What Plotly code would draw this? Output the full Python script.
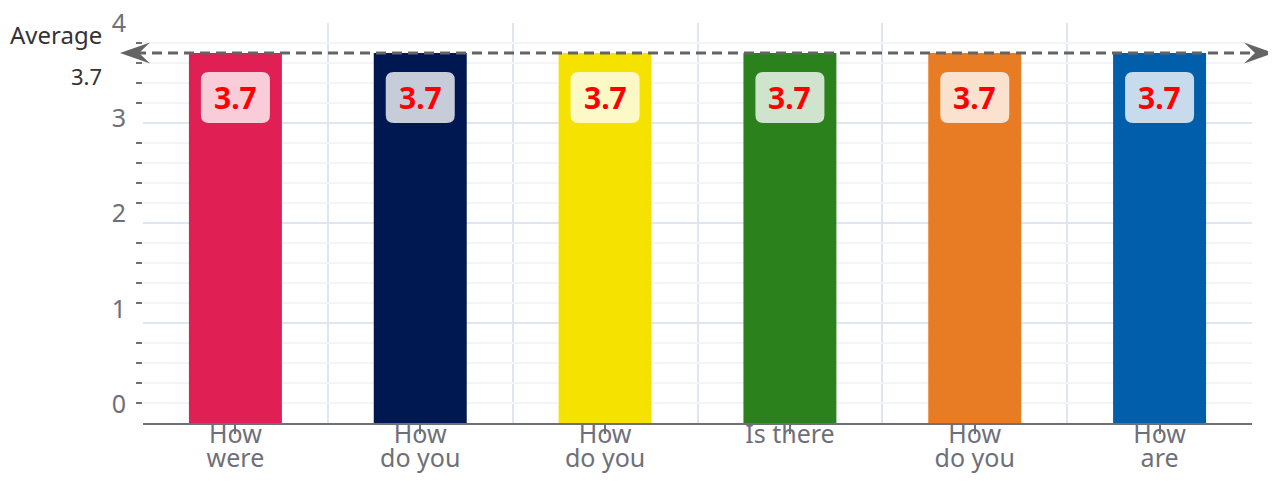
import plotly.graph_objects as go

# ---- data ----
label_line1 = ["How", "How", "How", "Is there", "How", "How"]
label_line2 = ["were", "do you", "do you", "", "do you", "are"]
values = [3.7, 3.7, 3.7, 3.7, 3.7, 3.7]
bar_colors = ["#e01f54", "#001852", "#f5e200", "#2b821d", "#e87c25", "#005eaa"]
average_value = 3.7
average_label = "Average"
y_tick_values = [0, 1, 2, 3, 4]
y_tick_labels = ["0", "1", "2", "3", "4"]

# ---- layout constants (page has an 8px body margin) ----
W, H = 1276, 481
ML, MR, MT, MB = 135, 32, 15, 66
PW = W - ML - MR
PAGE_OFFSET = 8
FONT = "Noto Sans"
AXIS_GRAY = "#6e7079"
ARROW_GRAY = "#646464"
MINOR_STEPS = 5  # minor grid/ticks per unit


def px_to_paper(page_px):
    return (page_px - PAGE_OFFSET - ML) / PW


def rounded_box(x0, x1, y0, y1, r):
    return (f"M{x0 + r},{y0} L{x1 - r},{y0} Q{x1},{y0} {x1},{y0 - r} "
            f"L{x1},{y1 + r} Q{x1},{y1} {x1 - r},{y1} L{x0 + r},{y1} "
            f"Q{x0},{y1} {x0},{y1 + r} L{x0},{y0 - r} Q{x0},{y0} {x0 + r},{y0} Z")


xs = list(range(len(values)))
y_minor_vals = [k / MINOR_STEPS for k in range(y_tick_values[0] * MINOR_STEPS,
                                                y_tick_values[-1] * MINOR_STEPS + 1)
                if k % MINOR_STEPS]

fig = go.Figure()
fig.add_trace(go.Bar(
    x=xs, y=values, width=0.503,
    marker=dict(color=bar_colors, line=dict(width=0)),
    hoverinfo="skip", showlegend=False,
))
# helper trace so the overlay axes (second label line / y labels) exist
fig.add_trace(go.Scatter(x=[None], y=[None], xaxis="x2", yaxis="y2",
                         showlegend=False, hoverinfo="skip"))

# value labels on bars (rounded translucent box + bold red text)
for xi, v in zip(xs, values):
    fig.add_shape(type="path", xref="x", yref="y",
                  xsizemode="pixel", ysizemode="pixel",
                  xanchor=xi, yanchor=v,
                  path=rounded_box(-34.5, 34.5, -19, -70, 8),
                  fillcolor="rgba(255,255,255,0.78)", line=dict(width=0),
                  layer="above")
    fig.add_annotation(
        x=xi, y=v, xref="x", yref="y", text=f"<b>{v}</b>", showarrow=False,
        yanchor="middle", yshift=-44.5,
        font=dict(family=FONT, size=30, color="#ff0000"),
    )

# average line (dashed) + arrow heads
fig.add_shape(type="line", xref="paper", yref="y",
              x0=px_to_paper(136), x1=px_to_paper(1258),
              y0=average_value, y1=average_value,
              line=dict(color=ARROW_GRAY, width=3, dash="10px,6px"))
fig.add_shape(type="path", xref="paper", yref="y",
              xsizemode="pixel", ysizemode="pixel",
              xanchor=px_to_paper(120), yanchor=average_value,
              path="M0,0 L30,10.5 L19,0 L30,-10.5 Z",
              fillcolor=ARROW_GRAY, line=dict(width=0))
fig.add_shape(type="path", xref="paper", yref="y",
              xsizemode="pixel", ysizemode="pixel",
              xanchor=px_to_paper(1274), yanchor=average_value,
              path="M0,0 L-30,10.5 L-19,0 L-30,-10.5 Z",
              fillcolor=ARROW_GRAY, line=dict(width=0))

fig.add_annotation(x=px_to_paper(104), y=average_value, xref="paper", yref="y",
                   text=average_label, showarrow=False, xanchor="right",
                   yanchor="middle", yshift=19,
                   font=dict(family=FONT, size=24, color="#333333"))
fig.add_annotation(x=px_to_paper(104), y=average_value, xref="paper", yref="y",
                   text=f"{average_value}", showarrow=False, xanchor="right",
                   yanchor="middle", yshift=-23,
                   font=dict(family=FONT, size=22, color="#333333"))

fig.update_layout(
    width=W, height=H,
    margin=dict(l=ML, r=MR, t=MT, b=MB, autoexpand=False),
    paper_bgcolor="white", plot_bgcolor="white",
    font=dict(family=FONT, color=AXIS_GRAY),
    showlegend=False,
    bargap=0.5,
    xaxis=dict(
        range=[-0.5, 5.5], tickmode="array", tickvals=xs, ticktext=label_line1,
        ticks="outside", ticklen=9, tickwidth=2, tickcolor=AXIS_GRAY,
        showline=True, linecolor=AXIS_GRAY, linewidth=2,
        showgrid=False, zeroline=False, automargin=False,
        minor=dict(tick0=0.5, dtick=1, showgrid=True, gridcolor="#e0e6f1",
                   gridwidth=2, ticks=""),
        tickfont=dict(family=FONT, size=25, color=AXIS_GRAY),
        ticklabelstandoff=-21, ticklabeloverflow="allow",
        fixedrange=True,
    ),
    xaxis2=dict(
        overlaying="x", matches="x", anchor="y", side="bottom",
        tickmode="array", tickvals=xs, ticktext=label_line2,
        ticks="", showline=False, showgrid=False, zeroline=False,
        automargin=False, ticklabeloverflow="allow",
        tickfont=dict(family=FONT, size=25, color=AXIS_GRAY),
        ticklabelstandoff=18,
    ),
    yaxis=dict(
        range=[0, 4], tickmode="array", tickvals=y_tick_values,
        showticklabels=False, ticks="", showgrid=True, gridcolor="#e0e6f1",
        gridwidth=2, zeroline=False, showline=False, automargin=False,
        minor=dict(tickmode="array", tickvals=y_minor_vals, ticks="outside",
                   ticklen=6, tickwidth=2, tickcolor=AXIS_GRAY, showgrid=True,
                   gridcolor="#f2f4f9", gridwidth=2),
        fixedrange=True,
    ),
    yaxis2=dict(
        overlaying="y", anchor="x", side="left",
        range=[-0.2, 4.002], tickmode="array", tickvals=y_tick_values,
        ticktext=y_tick_labels, ticks="", showgrid=False, zeroline=False,
        showline=False, automargin=False, ticklabeloverflow="allow",
        tickfont=dict(family=FONT, size=25, color=AXIS_GRAY),
        ticklabelstandoff=16,
    ),
)

fig.write_html("out.html")
